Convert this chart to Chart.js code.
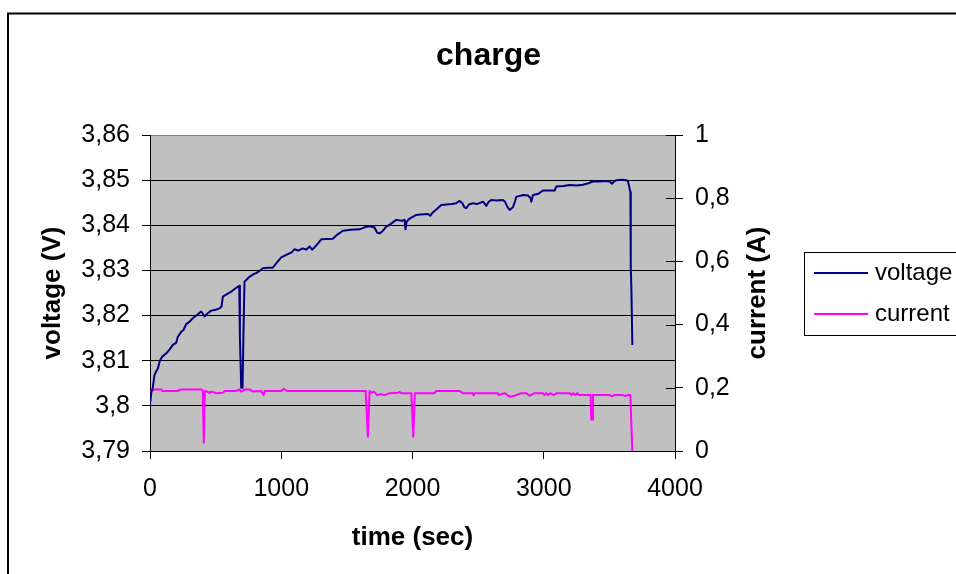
<!DOCTYPE html>
<html><head><meta charset="utf-8">
<script src="https://cdn.jsdelivr.net/npm/chart.js@4.4.0/dist/chart.umd.min.js"></script>
<style>html,body{margin:0;padding:0;background:#fff;overflow:hidden}canvas{display:block}</style>
</head><body>
<canvas id="c" width="956" height="574"></canvas>
<script>
const voltageTime = [0,10,21,34,45,60,75,93,123,150,174,200,212,238,255,276,300,326,360,390,400,415,440,466,500,530,545,555,590,619,650,680,685,695,705,712,720,758,790,809,840,860,900,936,960,1000,1050,1080,1101,1130,1165,1190,1216,1235,1250,1280,1305,1393,1430,1470,1530,1597,1640,1673,1711,1730,1749,1775,1800,1830,1876,1920,1940,1947,1955,1978,2029,2060,2118,2135,2150,2190,2219,2300,2334,2359,2380,2395,2410,2430,2460,2490,2537,2550,2562,2580,2600,2640,2689,2705,2725,2740,2765,2780,2791,2842,2880,2900,2905,2918,2960,2994,3083,3096,3150,3197,3250,3299,3340,3375,3420,3470,3502,3520,3540,3553,3600,3629,3642,3660,3662,3664,3668,3675];
const voltageValues = [3.8002,3.8030,3.8040,3.8068,3.8075,3.8083,3.8100,3.8109,3.8116,3.8125,3.8135,3.8140,3.8153,3.8164,3.8168,3.8181,3.8186,3.8194,3.8202,3.8209,3.8205,3.8198,3.8205,3.8211,3.8213,3.8216,3.8220,3.8242,3.8248,3.8253,3.8260,3.8266,3.8150,3.8040,3.8040,3.8160,3.8275,3.8286,3.8292,3.8294,3.8300,3.8305,3.8306,3.8306,3.8315,3.8329,3.8336,3.8340,3.8347,3.8344,3.8349,3.8346,3.8353,3.8346,3.8350,3.8360,3.8369,3.8370,3.8380,3.8388,3.8390,3.8391,3.8396,3.8398,3.8395,3.8384,3.8382,3.8388,3.8397,3.8402,3.8412,3.8410,3.8412,3.8391,3.8408,3.8415,3.8423,3.8424,3.8425,3.8421,3.8427,3.8437,3.8445,3.8447,3.8449,3.8454,3.8449,3.8440,3.8438,3.8446,3.8449,3.8447,3.8452,3.8448,3.8443,3.8452,3.8456,3.8455,3.8456,3.8452,3.8440,3.8434,3.8440,3.8452,3.8463,3.8467,3.8466,3.8460,3.8452,3.8467,3.8470,3.8477,3.8477,3.8486,3.8487,3.8489,3.8488,3.8490,3.8493,3.8497,3.8497,3.8498,3.8497,3.8492,3.8498,3.8500,3.8501,3.8500,3.8497,3.8474,3.8380,3.8308,3.8257,3.8135];
const currentTime = [0,34,85,98,212,233,395,402,410,418,423,453,470,505,555,568,656,682,695,707,720,758,783,846,866,873,1000,1020,1045,1643,1660,1673,1686,1706,1731,1757,1787,1825,1889,1902,1914,1991,2006,2018,2168,2181,2359,2384,2460,2465,2473,2651,2658,2702,2740,2778,2829,2867,2892,2931,2994,3007,3020,3035,3050,3075,3100,3197,3210,3225,3240,3255,3270,3357,3362,3368,3375,3502,3518,3538,3604,3622,3640,3660,3675];
const currentValues = [0.187,0.195,0.195,0.190,0.190,0.195,0.195,0.190,0.026,0.190,0.190,0.184,0.188,0.183,0.184,0.190,0.190,0.195,0.188,0.190,0.195,0.195,0.188,0.190,0.177,0.190,0.190,0.197,0.190,0.190,0.045,0.190,0.184,0.188,0.177,0.180,0.177,0.183,0.184,0.187,0.183,0.183,0.045,0.183,0.183,0.190,0.190,0.183,0.183,0.176,0.183,0.183,0.177,0.183,0.172,0.175,0.183,0.183,0.175,0.183,0.183,0.177,0.183,0.177,0.183,0.177,0.183,0.183,0.177,0.183,0.177,0.183,0.177,0.177,0.100,0.100,0.177,0.177,0.173,0.177,0.177,0.174,0.177,0.177,0.0];
const timeTicks = [0,1000,2000,3000,4000];
const timeTickLabels = ['0','1000','2000','3000','4000'];
const voltageTicks = [3.79,3.80,3.81,3.82,3.83,3.84,3.85,3.86];
const voltageTickLabels = ['3,79','3,8','3,81','3,82','3,83','3,84','3,85','3,86'];
const currentTicks = [0,0.2,0.4,0.6,0.8,1];
const currentTickLabels = ['0','0,2','0,4','0,6','0,8','1'];
const seriesNames = ['voltage','current'];
const titleText = 'charge';
const xTitle = 'time (sec)';
const yTitle = 'voltage (V)';
const y1Title = 'current (A)';

const FF = "'Liberation Sans', Arial, sans-serif";
const toXY = (xs, ys) => xs.map((x, i) => ({x: x, y: ys[i]}));
const setTicks = vals => scale => { scale.ticks = vals.map(v => ({value: v})); };

const decor = {
  id: 'decor',
  beforeDraw(chart) {
    const ctx = chart.ctx, a = chart.chartArea;
    ctx.save();
    ctx.fillStyle = '#fff';
    ctx.fillRect(0, 0, chart.width, chart.height);
    ctx.strokeStyle = '#000';
    ctx.lineWidth = 2;
    ctx.strokeRect(8, 13.5, 2000, 2000);
    ctx.fillStyle = '#c0c0c0';
    ctx.fillRect(a.left, a.top, a.right - a.left, a.bottom - a.top);
    ctx.restore();
  },
  afterDraw(chart) {
    const ctx = chart.ctx, a = chart.chartArea, s = chart.scales.y1;
    ctx.save();
    // inner tick marks of the right axis
    ctx.strokeStyle = '#000';
    ctx.lineWidth = 1;
    s.ticks.forEach(t => {
      const y = Math.round(s.getPixelForValue(t.value)) + 0.5;
      ctx.beginPath(); ctx.moveTo(a.right - 9, y); ctx.lineTo(a.right, y); ctx.stroke();
    });
    // right axis title, reading bottom to top
    ctx.translate(758, (a.top + a.bottom) / 2);
    ctx.rotate(-Math.PI / 2);
    ctx.fillStyle = '#000';
    ctx.font = 'bold 26px ' + FF;
    ctx.textAlign = 'center';
    ctx.textBaseline = 'middle';
    ctx.fillText(y1Title, 0, 0);
    ctx.restore();
    // legend
    ctx.save();
    ctx.fillStyle = '#fff';
    ctx.fillRect(804.5, 252.5, 200, 83);
    ctx.strokeStyle = '#000';
    ctx.lineWidth = 1;
    ctx.strokeRect(804.5, 252.5, 200, 83);
    ctx.font = '24px ' + FF;
    ctx.textBaseline = 'middle';
    ctx.textAlign = 'left';
    chart.data.datasets.forEach((d, i) => {
      const y = 273 + i * 41;
      ctx.strokeStyle = d.borderColor;
      ctx.lineWidth = 2;
      ctx.beginPath(); ctx.moveTo(814, y); ctx.lineTo(868, y); ctx.stroke();
      ctx.fillStyle = '#000';
      ctx.fillText(d.label, 875, y);
    });
    ctx.restore();
  }
};

new Chart(document.getElementById('c'), {
  type: 'line',
  data: {
    datasets: [
      {label: seriesNames[0], data: toXY(voltageTime, voltageValues), yAxisID: 'y', borderColor: '#000080', borderWidth: 2, pointRadius: 0, tension: 0, borderJoinStyle: 'round'},
      {label: seriesNames[1], data: toXY(currentTime, currentValues), yAxisID: 'y1', borderColor: '#ff00ff', borderWidth: 2, pointRadius: 0, tension: 0, borderJoinStyle: 'round'}
    ]
  },
  options: {
    responsive: false,
    animation: false,
    devicePixelRatio: 1,
    layout: {padding: {left: 21, right: 0, top: 0, bottom: 0}},
    plugins: {
      legend: {display: false},
      tooltip: {enabled: false},
      title: {display: true, text: titleText, color: '#000', font: {family: FF, size: 32, weight: 'bold'}, padding: {top: 37, bottom: 59.6}}
    },
    scales: {
      x: {
        type: 'linear', min: 0, max: 4000,
        afterBuildTicks: setTicks(timeTicks),
        afterFit: s => { s.height = 123; },
        ticks: {color: '#000', font: {family: FF, size: 25}, padding: 15, autoSkip: false, maxRotation: 0, callback: (v, i) => timeTickLabels[i]},
        grid: {drawOnChartArea: false, color: '#000', tickLength: 8},
        border: {color: '#000', width: 1},
        title: {display: true, text: xTitle, color: '#000', font: {family: FF, size: 26, weight: 'bold'}, padding: {top: 0, bottom: 21}}
      },
      y: {
        type: 'linear', position: 'left', min: 3.79, max: 3.86,
        afterBuildTicks: setTicks(voltageTicks),
        afterFit: s => { s.width = 129; },
        ticks: {color: '#000', font: {family: FF, size: 25}, padding: 12, autoSkip: false, callback: (v, i) => voltageTickLabels[i]},
        grid: {color: c => (c.tick && c.tick.value > 3.855) ? '#808080' : '#000', tickColor: '#000', tickLength: 8},
        border: {color: '#000', width: 1},
        title: {display: true, text: yTitle, color: '#000', font: {family: FF, size: 26, weight: 'bold'}, padding: {top: 16, bottom: 0}}
      },
      y1: {
        type: 'linear', position: 'right', min: 0, max: 1,
        afterBuildTicks: setTicks(currentTicks),
        afterFit: s => { s.width = 281; },
        ticks: {color: '#000', font: {family: FF, size: 25}, padding: 12, autoSkip: false, callback: (v, i) => currentTickLabels[i]},
        grid: {drawOnChartArea: false, color: '#000', tickLength: 8},
        border: {color: '#000', width: 1}
      }
    }
  },
  plugins: [decor]
});
</script>
</body></html>
